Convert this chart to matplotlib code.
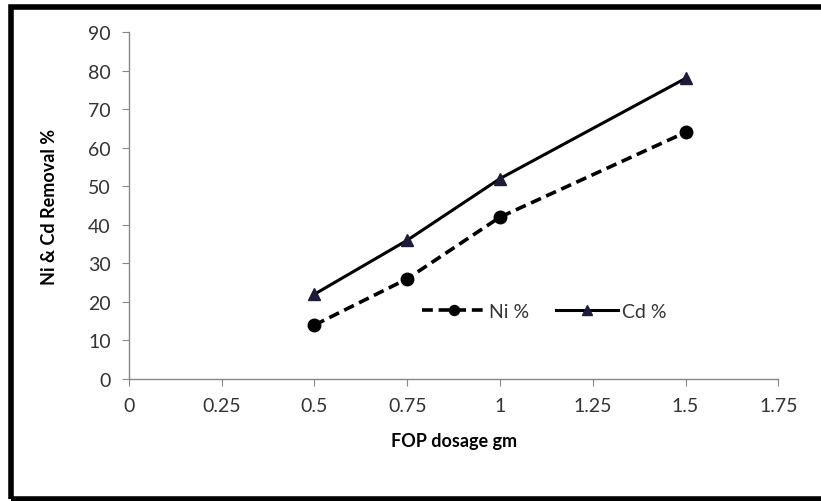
import matplotlib.pyplot as plt
from matplotlib.patches import Rectangle

dosage = [0.5, 0.75, 1.0, 1.5]
ni = [14, 26, 42, 64]
cd = [22, 36, 52, 78]
xticks = [0, 0.25, 0.5, 0.75, 1, 1.25, 1.5, 1.75]
xticklabels = ['0', '0.25', '0.5', '0.75', '1', '1.25', '1.5', '1.75']

plt.rcParams['font.family'] = ['Lato', 'DejaVu Sans']

fig = plt.figure(figsize=(8.21, 5.02), dpi=100)
ax = fig.add_axes([0.157, 0.243, 0.791, 0.691])

ax.plot(dosage, ni, color='black', linestyle=(0, (3, 1.6)), linewidth=2.6,
        marker='o', markersize=9, label='Ni %')
ax.plot(dosage, cd, color='black', linestyle='-', linewidth=2.2,
        marker='^', markersize=9, markerfacecolor='#1c1c3a',
        markeredgecolor='#1c1c3a', label='Cd %')

ax.set_xlim(0, 1.75)
ax.set_ylim(0, 90)
ax.set_xticks(xticks)
ax.set_xticklabels(xticklabels)
ax.set_yticks(range(0, 91, 10))

for s in ['top', 'right']:
    ax.spines[s].set_visible(False)
for s in ['left', 'bottom']:
    ax.spines[s].set_color('#888888')
    ax.spines[s].set_linewidth(1.0)
ax.tick_params(direction='out', length=5, color='#888888', labelsize=14,
               labelcolor='#333333', pad=8)

ax.set_xlabel('FOP dosage gm', fontsize=13, fontweight='bold', labelpad=13)
ax.set_ylabel('Ni & Cd Removal %', fontsize=13, fontweight='bold', labelpad=22)

ax.legend(loc='center', bbox_to_anchor=(0.64, 0.195), ncol=2, frameon=False,
          fontsize=14, handlelength=3.2, columnspacing=1.4, handletextpad=0.2,
          labelcolor='#333333', markerscale=0.8)

fig.patches.append(Rectangle((11 / 821, 2 / 502), 1.0, 492 / 502,
                             transform=fig.transFigure, fill=False,
                             edgecolor='black', linewidth=4, clip_on=False))

fig.savefig('out.png', dpi=100)
